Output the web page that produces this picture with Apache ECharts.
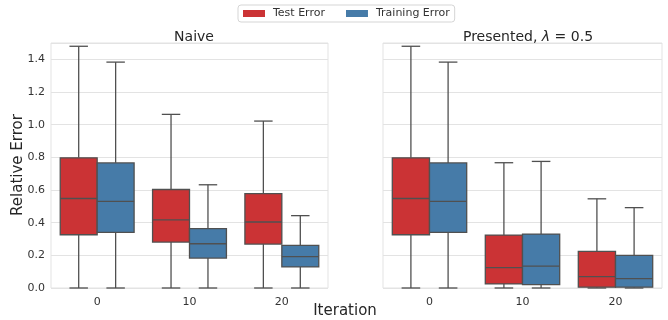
<!DOCTYPE html>
<html>
<head>
<meta charset="utf-8">
<script src="https://cdn.jsdelivr.net/npm/echarts@6/dist/echarts.min.js"></script>
<style>
html,body{margin:0;padding:0;background:#fff}
#main{width:668px;height:320px}
</style>
</head>
<body>
<div id="main"></div>
<script>
var categories=['0','10','20']
// [min, q1, median, q3, max] per iteration
var naiveTest=[[0,0.326,0.548,0.797,1.48],[0,0.281,0.417,0.603,1.063],[0,0.269,0.404,0.578,1.022]]
var naiveTrain=[[0,0.341,0.530,0.766,1.383],[0,0.183,0.271,0.363,0.632],[0,0.129,0.192,0.261,0.443]]
var presTest=[[0,0.326,0.548,0.797,1.48],[0,0.025,0.125,0.324,0.767],[0,0.005,0.070,0.224,0.546]]
var presTrain=[[0,0.341,0.530,0.766,1.383],[0,0.021,0.134,0.330,0.775],[0,0.005,0.058,0.200,0.492]]

var RED='#cb3335',BLUE='#467ba8',EDGE='#505050',FONT='DejaVu Sans'

function toData(arr){
    return arr.map(function(d,i){return [i].concat(d)})
}

//画箱线 side=-1 左, 1 右
function boxRender(side){
    return function(params,api){
        var cat=api.value(0)
        var band=api.size([1,0])[0]
        var w=band*0.4
        var cx=api.coord([cat,0])[0]+side*w/2
        var yMin=api.coord([cat,api.value(1)])[1]
        var yQ1=api.coord([cat,api.value(2)])[1]
        var yMed=api.coord([cat,api.value(3)])[1]
        var yQ3=api.coord([cat,api.value(4)])[1]
        var yMax=api.coord([cat,api.value(5)])[1]
        var lineStyle={stroke:EDGE,lineWidth:1.3}
        var cap=w/4
        return {
            type:'group',
            children:[
                {type:'line',shape:{x1:cx,y1:yQ3,x2:cx,y2:yMax},style:lineStyle},
                {type:'line',shape:{x1:cx-cap,y1:yMax,x2:cx+cap,y2:yMax},style:lineStyle},
                {type:'line',shape:{x1:cx,y1:yQ1,x2:cx,y2:yMin},style:lineStyle},
                {type:'line',shape:{x1:cx-cap,y1:yMin,x2:cx+cap,y2:yMin},style:lineStyle},
                {type:'rect',shape:{x:cx-w/2,y:yQ3,width:w,height:yQ1-yQ3},style:{fill:api.visual('color'),stroke:EDGE,lineWidth:1.3}},
                {type:'line',shape:{x1:cx-w/2,y1:yMed,x2:cx+w/2,y2:yMed},style:lineStyle}
            ]
        }
    }
}

function mkSeries(name,arr,side,idx,color){
    return {
        name:name,
        type:'custom',
        xAxisIndex:idx,
        yAxisIndex:idx,
        renderItem:boxRender(side),
        itemStyle:{color:color},
        encode:{x:0,y:[1,2,3,4,5]},
        data:toData(arr)
    }
}

function xAx(idx){
    return {
        type:'category',gridIndex:idx,data:categories,
        axisLine:{show:false},axisTick:{show:false},
        axisLabel:{fontFamily:FONT,fontSize:11,color:'#333',margin:9},
        splitLine:{show:false}
    }
}
function yAx(idx,showLabel){
    return {
        type:'value',gridIndex:idx,min:0,max:1.5,interval:0.2,
        axisLine:{show:false},axisTick:{show:false},
        axisLabel:{show:showLabel,showMaxLabel:false,fontFamily:FONT,fontSize:11,color:'#333',margin:6,
            formatter:function(v){return v.toFixed(1)}},
        splitLine:{lineStyle:{color:'#e3e3e3',width:1}}
    }
}

var myChart=echarts.init(document.getElementById('main'))
var option={
    animation:false,
    textStyle:{fontFamily:FONT},
    title:[
        {text:'Naive',left:189,top:25,textAlign:'center',
            textStyle:{fontFamily:FONT,fontSize:14,fontWeight:'normal',color:'#262626'}},
        {text:'Presented, {i|λ} = 0.5',left:523,top:25,textAlign:'center',
            textStyle:{fontFamily:FONT,fontSize:14,fontWeight:'normal',color:'#262626',
                rich:{i:{fontFamily:FONT,fontSize:14,fontStyle:'italic',color:'#262626'}}}}
    ],
    legend:{
        left:238,top:5,
        padding:[3,5,3,5],
        itemWidth:22,itemHeight:7,itemGap:21,
        borderColor:'#d5d5d5',borderWidth:1,borderRadius:3,
        icon:'rect',
        data:['Test Error','Training Error'],
        textStyle:{fontFamily:FONT,fontSize:11,color:'#333',padding:[0,0,0,3]}
    },
    grid:[
        {left:51,right:340,top:43,bottom:32,show:true,borderColor:'#e3e3e3',borderWidth:1},
        {left:383,right:6,top:43,bottom:32,show:true,borderColor:'#e3e3e3',borderWidth:1}
    ],
    xAxis:[xAx(0),xAx(1)],
    yAxis:[yAx(0,true),yAx(1,false)],
    graphic:[
        {type:'text',x:18,y:165,rotation:Math.PI/2,
            style:{text:'Relative Error',fontFamily:FONT,fontSize:15,fill:'#262626',textAlign:'center',textVerticalAlign:'middle'}},
        {type:'text',x:345,y:311,
            style:{text:'Iteration',fontFamily:FONT,fontSize:15,fill:'#262626',textAlign:'center',textVerticalAlign:'middle'}}
    ],
    series:[
        mkSeries('Test Error',naiveTest,-1,0,RED),
        mkSeries('Training Error',naiveTrain,1,0,BLUE),
        mkSeries('Test Error',presTest,-1,1,RED),
        mkSeries('Training Error',presTrain,1,1,BLUE)
    ]
}
myChart.setOption(option)
</script>
</body>
</html>
